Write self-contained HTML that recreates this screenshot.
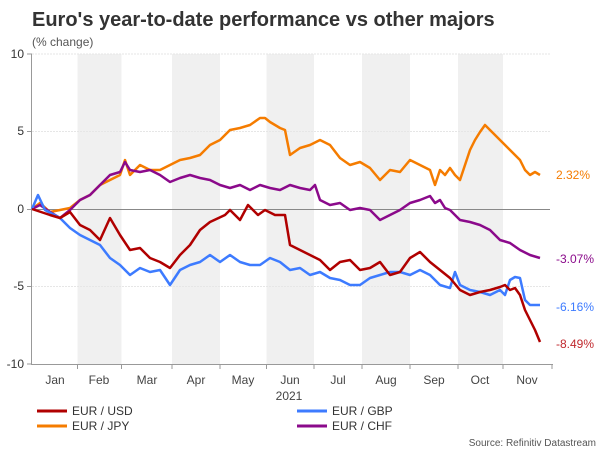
<!DOCTYPE html>
<html><head><style>
body{margin:0;background:#fff;width:600px;height:450px;overflow:hidden;font-family:"Liberation Sans",sans-serif}
</style></head><body>
<svg width="600" height="450" xmlns="http://www.w3.org/2000/svg" font-family="Liberation Sans, sans-serif">
<text x="32" y="26" font-size="20" font-weight="bold" fill="#333">Euro's year-to-date performance vs other majors</text>
<text x="32" y="46" font-size="12" fill="#555">(% change)</text>
<g fill="#f0f0f0">
<rect x="77.5" y="54" width="44" height="310"/>
<rect x="172" y="54" width="48" height="310"/>
<rect x="266.5" y="54" width="47.5" height="310"/>
<rect x="362" y="54" width="48" height="310"/>
<rect x="458" y="54" width="45" height="310"/>
</g>
<g stroke="#e6e6e6" stroke-width="1" stroke-dasharray="2,1">
<line x1="32" y1="54" x2="550" y2="54"/>
<line x1="32" y1="131.5" x2="550" y2="131.5"/>
<line x1="32" y1="286.5" x2="550" y2="286.5"/>
</g>
<line x1="32" y1="209.5" x2="550" y2="209.5" stroke="#888" stroke-width="1"/>
<line x1="31.5" y1="54" x2="31.5" y2="364" stroke="#999"/>
<line x1="31" y1="364.5" x2="553" y2="364.5" stroke="#999"/>
<g stroke="#999">
<line x1="27" y1="54" x2="32" y2="54"/><line x1="27" y1="131.5" x2="32" y2="131.5"/><line x1="27" y1="209.5" x2="32" y2="209.5"/><line x1="27" y1="286.5" x2="32" y2="286.5"/><line x1="27" y1="364" x2="32" y2="364"/>
<line x1="77.5" y1="364" x2="77.5" y2="369"/><line x1="121.5" y1="364" x2="121.5" y2="369"/><line x1="172" y1="364" x2="172" y2="369"/><line x1="220" y1="364" x2="220" y2="369"/><line x1="266.5" y1="364" x2="266.5" y2="369"/><line x1="314" y1="364" x2="314" y2="369"/><line x1="362" y1="364" x2="362" y2="369"/><line x1="410" y1="364" x2="410" y2="369"/><line x1="458" y1="364" x2="458" y2="369"/><line x1="503" y1="364" x2="503" y2="369"/><line x1="552" y1="364" x2="552" y2="369"/>
</g>
<g font-size="12" fill="#333" text-anchor="end">
<text x="24" y="58">10</text><text x="24" y="135">5</text><text x="24" y="213">0</text><text x="24" y="290">-5</text><text x="24" y="368">-10</text>
</g>
<g font-size="12" fill="#444" text-anchor="middle">
<text x="55" y="384">Jan</text><text x="99" y="384">Feb</text><text x="147" y="384">Mar</text><text x="196" y="384">Apr</text><text x="243" y="384">May</text><text x="290" y="384">Jun</text><text x="338" y="384">Jul</text><text x="386" y="384">Aug</text><text x="434" y="384">Sep</text><text x="480" y="384">Oct</text><text x="527" y="384">Nov</text>
<text x="289" y="400">2021</text>
</g>
<g fill="none" stroke-width="2.5" stroke-linejoin="round">
<polyline stroke="#f57c00" points="32,209 40,203 50,212 60,210 70,208 80,200 90,195 100,185 110,180 120,175 125,160 130,175 140,165 150,170 160,170 170,165 180,160 190,158 200,155 210,145 220,140 230,130 240,128 250,125 260,118 265,118 270,122 280,128 285,130 290,155 300,148 310,145 320,140 330,145 340,158 350,165 360,162 370,168 380,180 390,170 400,172 410,160 420,165 430,170 435,185 440,170 445,175 450,168 455,175 460,180 465,165 470,150 475,140 480,132 485,125 490,130 500,140 510,150 520,160 525,170 530,175 535,172 540,175"/>
<polyline stroke="#8b0a8b" points="32,209 40,205 50,212 60,218 70,210 80,200 90,195 100,185 110,175 120,172 125,162 130,170 140,172 150,170 160,175 170,182 180,178 190,175 200,178 210,180 220,185 230,188 240,185 250,190 260,185 270,188 280,190 290,185 300,188 310,190 315,185 320,200 330,205 340,203 350,210 360,208 370,210 380,220 390,215 400,210 410,203 420,200 430,196 435,203 440,200 445,208 450,210 460,220 470,222 480,225 490,230 500,240 510,243 520,250 530,255 540,258"/>
<polyline stroke="#3d7bff" points="32,209 38,195 45,210 60,218 70,228 80,235 90,240 100,245 110,258 120,265 130,275 140,268 150,272 160,270 170,285 180,270 190,265 200,262 210,255 220,262 230,255 240,262 250,265 260,265 270,258 280,262 290,270 300,268 310,275 320,272 330,278 340,280 350,285 360,285 370,278 380,275 390,272 400,272 410,275 420,270 430,275 440,285 450,288 455,272 460,285 470,290 480,292 490,295 500,290 505,295 510,280 515,277 520,278 525,300 530,305 540,305"/>
<polyline stroke="#b00000" points="32,209 50,215 60,218 70,212 80,225 90,230 100,240 110,218 120,235 130,250 140,248 150,258 160,262 170,268 180,255 190,245 200,230 210,222 225,215 230,210 240,220 248,205 258,215 265,210 275,215 285,215 290,245 300,250 310,255 320,260 330,270 340,262 350,260 360,270 370,268 380,262 390,275 400,272 410,258 420,252 430,262 440,270 450,278 460,290 470,295 480,292 490,290 500,287 505,285 510,290 515,288 520,295 525,310 530,320 535,330 540,342"/>
</g>
<g font-size="12">
<text x="556" y="179" fill="#f57c00">2.32%</text>
<text x="556" y="263" fill="#8b0a8b">-3.07%</text>
<text x="556" y="311" fill="#3d7bff">-6.16%</text>
<text x="556" y="348" fill="#c0282d">-8.49%</text>
</g>
<g stroke-width="3">
<line x1="37" y1="411" x2="67" y2="411" stroke="#b00000"/>
<line x1="37" y1="426" x2="67" y2="426" stroke="#f57c00"/>
<line x1="297" y1="411" x2="327" y2="411" stroke="#3d7bff"/>
<line x1="297" y1="426" x2="327" y2="426" stroke="#8b0a8b"/>
</g>
<g font-size="12" fill="#333">
<text x="72" y="415">EUR / USD</text><text x="72" y="430">EUR / JPY</text>
<text x="332" y="415">EUR / GBP</text><text x="332" y="430">EUR / CHF</text>
</g>
<text x="596" y="446" font-size="10" fill="#555" text-anchor="end">Source: Refinitiv Datastream</text>
</svg>
</body></html>
